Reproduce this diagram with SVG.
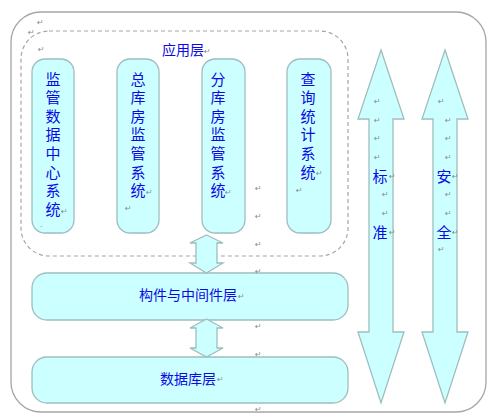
<svg xmlns="http://www.w3.org/2000/svg" width="500" height="418" viewBox="0 0 500 418">
<style>
.frame{fill:#ffffff;stroke:#a6a6a6;stroke-width:1.3}
.dash{fill:none;stroke:#a6a6a6;stroke-width:1.2;stroke-dasharray:4 3}
.node{fill:#ccffff;stroke:#9fbdbd;stroke-width:1.3}
.t{font-family:"Noto Sans CJK SC","Noto Sans",sans-serif;fill:#0a0ae6;text-anchor:middle;dominant-baseline:central}
.v{font-family:"Noto Sans CJK SC","Noto Sans",sans-serif;fill:#0a0ae6;font-size:15px;writing-mode:vertical-rl;text-anchor:start;letter-spacing:3.6px}
.c{font-size:15px}
.h{font-size:14px}
.p{font-family:"DejaVu Sans",sans-serif;font-size:8px;fill:#8a8a8a;dominant-baseline:central}
</style>
<rect class="frame" x="11" y="12" width="475" height="400" rx="30"/>
<rect class="dash" x="21" y="31" width="327" height="225" rx="28"/>
<text class="t h" x="183" y="49">应用层</text>

<g id="n1"><rect class="node" x="32" y="59" width="42" height="174" rx="13"/>
<text class="v" x="53" y="71.5">监管数据中心系统</text></g>
<g id="n2"><rect class="node" x="117" y="59" width="42" height="174" rx="13"/>
<text class="v" x="138" y="71.5">总库房监管系统</text></g>
<g id="n3"><rect class="node" x="202" y="59" width="43" height="174" rx="13"/>
<text class="v" x="218" y="71.5">分库房监管系统</text></g>
<g id="n4"><rect class="node" x="287" y="59" width="44" height="174" rx="13"/>
<text class="v" x="308" y="71.5">查询统计系统</text></g>
<g id="n5"><rect class="node" x="32" y="273" width="316" height="47" rx="15"/>
<text class="t h" x="188" y="294">构件与中间件层</text></g>
<g id="n6"><rect class="node" x="32" y="357" width="316" height="46" rx="15"/>
<text class="t h" x="188" y="378">数据库层</text></g>

<g id="connectors">
<polygon class="node" points="206.5,235 223,243 217,243 217,263 223,263 206.5,273 190,263 196,263 196,243 190,243"/>
<polygon class="node" points="206.5,319 223,328 217,328 217,348 223,348 206.5,357 190,348 196,348 196,328 190,328"/>
</g>
<g id="std">
<polygon class="node" points="381,50 404,119 393,119 393,332 404,332 381,403 358,332 369,332 369,119 358,119"/>
<text class="t c" x="380" y="175">标</text><text class="t c" x="380" y="231">准</text>
</g>
<g id="sec">
<polygon class="node" points="445,50 468,119 457,119 457,332 468,332 445,403 422,332 433,332 433,119 422,119"/>
<text class="t c" x="444" y="175">安</text><text class="t c" x="444" y="231">全</text>
</g>

<g id="marks">
<text class="p" x="37" y="22">↵</text><text class="p" x="28" y="32">↵</text><text class="p" x="38" y="49">↵</text>
<text class="p" x="204" y="51">↵</text>
<text class="p" x="61" y="211">↵</text><text class="p" x="40" y="224">.</text>
<text class="p" x="146" y="192">↵</text><text class="p" x="125" y="208">↵</text>
<text class="p" x="225" y="192">↵</text>
<text class="p" x="255" y="188">↵</text><text class="p" x="255" y="216">↵</text>
<text class="p" x="316" y="173">↵</text><text class="p" x="296" y="190">↵</text>
<text class="p" x="374" y="101">↵</text><text class="p" x="374" y="120">↵</text><text class="p" x="374" y="138">↵</text><text class="p" x="374" y="157">↵</text>
<text class="p" x="389" y="176">↵</text><text class="p" x="382" y="194">↵</text><text class="p" x="382" y="213">↵</text><text class="p" x="389" y="232">↵</text>
<text class="p" x="438" y="101">↵</text><text class="p" x="445" y="120">↵</text><text class="p" x="445" y="138">↵</text><text class="p" x="445" y="157">↵</text>
<text class="p" x="452" y="176">↵</text><text class="p" x="445" y="194">↵</text><text class="p" x="445" y="213">↵</text><text class="p" x="452" y="232">↵</text>
<text class="p" x="438" y="249">↵</text>
<text class="p" x="255" y="244">↵</text><text class="p" x="255" y="271">↵</text><text class="p" x="255" y="326">↵</text><text class="p" x="255" y="354">↵</text><text class="p" x="255" y="409">↵</text>
<text class="p" x="238" y="296">↵</text><text class="p" x="217" y="379">↵</text>
</g>
</svg>
